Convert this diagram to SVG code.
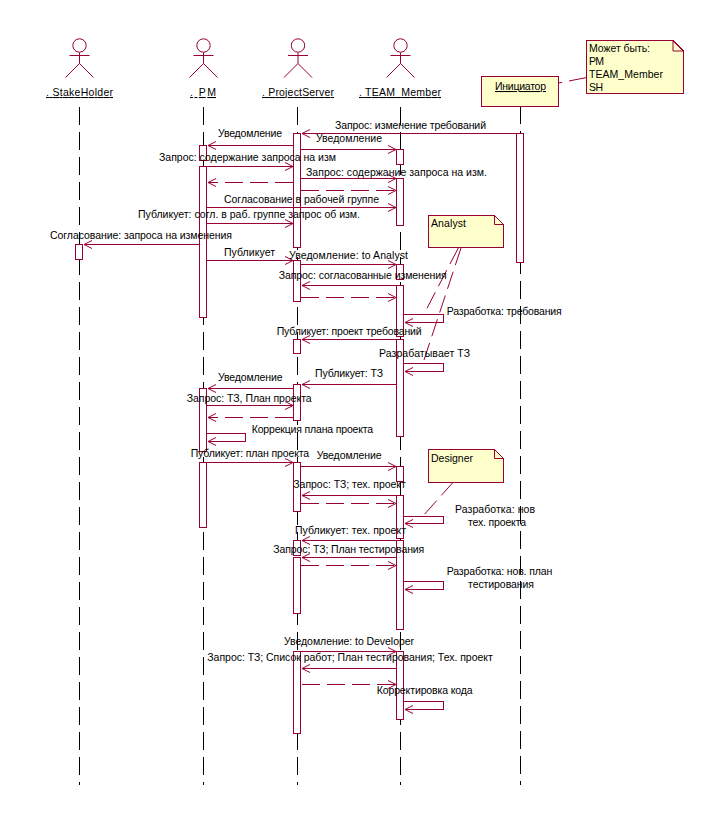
<svg xmlns="http://www.w3.org/2000/svg" width="718" height="821" viewBox="0 0 718 821">
<style>
text{font-family:"Liberation Sans",Arial,sans-serif;font-size:10.5px;fill:#000}
.u{text-decoration:underline}
.s{fill:none;stroke:#990033;stroke-width:1;shape-rendering:crispEdges}
.f{fill:none;stroke:#990033;stroke-width:1}
.a{fill:#fff;stroke:#990033;stroke-width:1;shape-rendering:crispEdges}
.n{fill:#ffffcc;stroke:#990033;stroke-width:1;shape-rendering:crispEdges}
.l{stroke:#000;stroke-width:1;stroke-dasharray:18 7;fill:none;shape-rendering:crispEdges}
.m{fill:none;stroke:#990033;stroke-width:1;shape-rendering:crispEdges;marker-end:url(#o)}
.d{stroke-dasharray:18 7}
.c{fill:none;stroke:#990033;stroke-width:1;stroke-dasharray:18 7}
</style>
<defs>
<marker id="o" markerUnits="userSpaceOnUse" markerWidth="12" markerHeight="12" refX="1" refY="6" orient="auto" overflow="visible">
<path d="M9,2 L1,6 L9,10" fill="none" stroke="#990033" stroke-width="1" transform="rotate(180 1 6)"/>
</marker>
<g id="fig"><circle cx="0" cy="45.5" r="6.7" class="f"/><path d="M0,52.5V63.5M-10,55.5H10M0,63.5L-14,77.5M0,63.5L14,77.5" class="f"/></g>
</defs>
<g id="actor-stakeholder">
<use href="#fig" x="79.5"/>
<path class="l" d="M79.5,107V785"/>
<rect class="a" x="75.5" y="244.5" width="7" height="15"/>
<text class="u" x="46" y="96" textLength="67">. StakeHolder</text>
</g>
<g id="actor-pm">
<use href="#fig" x="203.5"/>
<path class="l" d="M203.5,107V785"/>
<rect class="a" x="199.5" y="145.5" width="7" height="15"/>
<rect class="a" x="199.5" y="166.5" width="7" height="151"/>
<rect class="a" x="199.5" y="388.5" width="7" height="63"/>
<rect class="a" x="199.5" y="462.5" width="7" height="65"/>
<text class="u" x="190" y="96" textLength="26">. PM</text>
</g>
<g id="actor-projectserver">
<use href="#fig" x="298"/>
<path class="l" d="M297.5,107V785"/>
<rect class="a" x="293.5" y="133.5" width="7" height="114"/>
<rect class="a" x="293.5" y="260.5" width="7" height="41"/>
<rect class="a" x="293.5" y="339.5" width="7" height="14"/>
<rect class="a" x="293.5" y="384.5" width="7" height="36"/>
<rect class="a" x="293.5" y="462.5" width="7" height="49"/>
<rect class="a" x="293.5" y="540.5" width="7" height="15"/>
<rect class="a" x="293.5" y="557.5" width="7" height="56"/>
<rect class="a" x="293.5" y="651.5" width="7" height="82"/>
<text class="u" x="262" y="96" textLength="72">. ProjectServer</text>
</g>
<g id="actor-team-member">
<use href="#fig" x="400.5"/>
<path class="l" d="M400.5,107V785"/>
<rect class="a" x="396.5" y="149.5" width="7" height="15"/>
<rect class="a" x="396.5" y="178.5" width="7" height="47"/>
<rect class="a" x="396.5" y="264.5" width="7" height="15"/>
<rect class="a" x="396.5" y="285.5" width="7" height="51"/>
<rect class="a" x="396.5" y="339.5" width="7" height="97"/>
<rect class="a" x="396.5" y="466.5" width="7" height="15"/>
<rect class="a" x="396.5" y="495.5" width="7" height="43"/>
<rect class="a" x="396.5" y="540.5" width="7" height="89"/>
<rect class="a" x="396.5" y="651.5" width="7" height="68"/>
<text class="u" x="359" y="96" textLength="82">. TEAM_Member</text>
</g>
<g id="object-initiator">
<path class="l" d="M520.5,106V785"/>
<rect class="n" x="481.5" y="76.5" width="77" height="30"/>
<rect class="a" x="516.5" y="133.5" width="7" height="129"/>
<text class="u" x="495" y="90" textLength="51">Инициатор</text>
</g>
<g id="connectors">
<path class="c" d="M586.7,77.5L558.7,83"/>
<path class="c" d="M458.3,248L424,314"/>
<path class="c" d="M461,248L423,363"/>
<path class="c" d="M453.3,482L423,516"/>
<path class="m" d="M516,133.5H302"/>
<path class="m" d="M293,145.5H208"/>
<path class="m" d="M301,149.5H396"/>
<path class="m" d="M207,166.5H293"/>
<path class="m" d="M301,178.5H396"/>
<path class="m d" d="M293,182.5H208"/>
<path class="m d" d="M301,190.5H396"/>
<path class="m" d="M207,207.5H396"/>
<path class="m" d="M207,223.5H293"/>
<path class="m" d="M199,244.5H84"/>
<path class="m" d="M207,260.5H293"/>
<path class="m" d="M301,264.5H396"/>
<path class="m" d="M396,285.5H302"/>
<path class="m d" d="M301,297.5H396"/>
<path class="m" d="M404,314.5H443.5V322.5H405"/>
<path class="m" d="M396,339.5H302"/>
<path class="m" d="M404,363.5H443.5V371.5H405"/>
<path class="m" d="M396,384.5H302"/>
<path class="m" d="M293,388.5H208"/>
<path class="m" d="M207,405.5H293"/>
<path class="m d" d="M293,417.5H208"/>
<path class="m" d="M207,433.5H245.5V441.5H208"/>
<path class="m" d="M207,462.5H293"/>
<path class="m" d="M301,466.5H396"/>
<path class="m" d="M396,495.5H302"/>
<path class="m d" d="M301,503.5H396"/>
<path class="m" d="M404,516.5H443.5V523.5H405"/>
<path class="m" d="M396,540.5H302"/>
<path class="m" d="M396,557.5H302"/>
<path class="m d" d="M301,565.5H396"/>
<path class="m" d="M404,581.5H443.5V589.5H405"/>
<path class="m" d="M301,651.5H396"/>
<path class="m" d="M396,668.5H302"/>
<path class="m d" d="M302,684.5H396"/>
<path class="m" d="M404,701.5H443.5V709.5H405"/>
<text x="335" y="129" textLength="151">Запрос: изменение требований</text>
<text x="218" y="137" textLength="64">Уведомление</text>
<text x="316" y="141.5" textLength="66">Уведомление</text>
<text x="159" y="161" textLength="177">Запрос: содержание запроса на изм</text>
<text x="306" y="176" textLength="181">Запрос: содержание запроса на изм.</text>
<text x="224" y="203" textLength="155">Согласование в рабочей группе</text>
<text x="138" y="218" textLength="222">Публикует: согл. в раб. группе запрос об изм.</text>
<text x="50" y="239" textLength="182">Согласование: запроса на изменения</text>
<text x="224" y="256" textLength="51">Публикует</text>
<text x="289" y="258.5" textLength="119">Уведомление: to Analyst</text>
<text x="278.7" y="279" textLength="168">Запрос: согласованные изменения</text>
<text x="446.7" y="315" textLength="115">Разработка: требования</text>
<text x="276.7" y="335" textLength="145">Публикует: проект требований</text>
<text x="379" y="357" textLength="91">Разрабатывает ТЗ</text>
<text x="315" y="377" textLength="68">Публикует: ТЗ</text>
<text x="218" y="381" textLength="64.5">Уведомление</text>
<text x="186.7" y="402" textLength="125">Запрос: ТЗ, План проекта</text>
<text x="251.7" y="433" textLength="121.5">Коррекция плана проекта</text>
<text x="190.7" y="457" textLength="118.5">Публикует: план проекта</text>
<text x="316.7" y="459" textLength="65">Уведомление</text>
<text x="293.3" y="488" textLength="112.5">Запрос: ТЗ; тех. проект</text>
<text x="455" y="513" textLength="80">Разработка: нов</text>
<text x="468" y="526" textLength="58">тех. проекта</text>
<text x="295" y="534" textLength="111">Публикует: тех. проект</text>
<text x="273.3" y="553" textLength="151">Запрос: ТЗ; План тестирования</text>
<text x="446.7" y="575" textLength="105.5">Разработка: нов. план</text>
<text x="468" y="588" textLength="66">тестирования</text>
<text x="284" y="645" textLength="130">Уведомление: to Developer</text>
<text x="207.3" y="661" textLength="285.5">Запрос: ТЗ; Список работ; План тестирования; Тех. проект</text>
<text x="376.7" y="694" textLength="96">Корректировка кода</text>
</g>
<g id="note-initiator">
<path class="n" d="M586.5,40.5H673L683.5,51V93.5H586.5Z"/>
<path class="f" d="M673,40.5V51H683.5"/>
<text x="589" y="52" textLength="61">Может быть:</text>
<text x="589" y="65" textLength="15">PM</text>
<text x="589" y="78" textLength="74">TEAM_Member</text>
<text x="589" y="91" textLength="14">SH</text>
</g>
<g id="note-analyst">
<path class="n" d="M428.5,215.5H494.5L503.5,224.5V247.5H428.5Z"/>
<path class="f" d="M494.5,215.5V224.5H503.5"/>
<text x="431" y="227" textLength="35">Analyst</text>
</g>
<g id="note-designer">
<path class="n" d="M428.5,449.5H494.5L503.5,458.5V482.5H428.5Z"/>
<path class="f" d="M494.5,449.5V458.5H503.5"/>
<text x="431" y="462" textLength="42">Designer</text>
</g>
</svg>
